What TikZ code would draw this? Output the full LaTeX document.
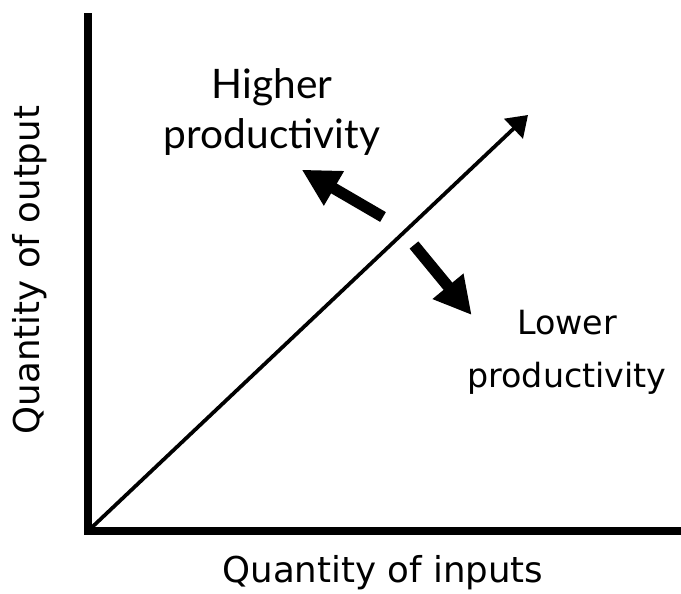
\documentclass[tikz,border=0pt]{standalone}
\usepackage{fontspec}
\setmainfont{DejaVu Sans}
\newfontfamily\latofont{Lato}
\usetikzlibrary{arrows.meta}

\begin{document}
\begin{tikzpicture}[x=0.75pt, y=-0.75pt]
  \tikzstyle{axis} = [line width=5.5pt, line cap=rect]
  \tikzstyle{trend} = [line width=2.8pt, -{Triangle[length=15pt, width=20pt]}]
  \tikzstyle{bigarrow} = [line width=8.5pt, -{Triangle[length=28pt, width=28pt]}, shorten >=-2pt]
  \tikzstyle{axlabel} = [font=\fontsize{26.7}{30}\selectfont]
  \tikzstyle{note} = [align=center, font=\fontsize{25}{39.5}\selectfont]

\useasboundingbox (0,0) rectangle (681,593);
\coordinate (O) at (88,531);
\coordinate (ytop) at (88,17);
\coordinate (xend) at (681,531);
\coordinate (trendend) at (528,115);
\coordinate (hitail) at (383,217);
\coordinate (hitip) at (304,171);
\coordinate (lotail) at (414,245);
\coordinate (lotip) at (470,313);
\node[note, font=\latofont\fontsize{30.5}{37.5}\selectfont] (higher) at (272,112) {Higher\\productivity};
\node[note] (lower) at (567,352) {Lower\\productivity};
\node[axlabel] (xlab) at (383,573) {Quantity of inputs};
\node[axlabel, rotate=90] (ylab) at (30,270) {Quantity of output};
\draw[axis] (ytop) -- (O) -- ([xshift=-3pt]xend);
\draw[trend] (O) -- (trendend);
\draw[bigarrow] (hitail) -- (hitip);
\draw[bigarrow] (lotail) -- (lotip);
\end{tikzpicture}
\end{document}
